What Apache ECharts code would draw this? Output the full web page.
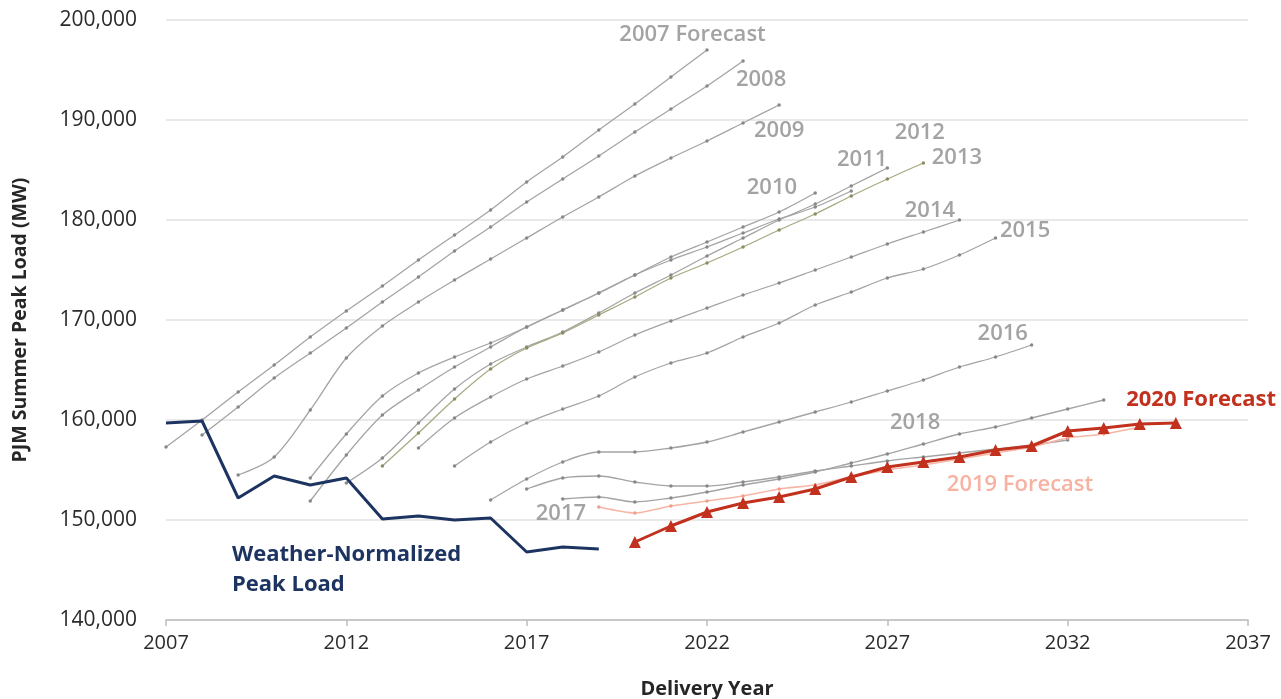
<!DOCTYPE html>
<html><head><meta charset="utf-8">
<script src="https://cdn.jsdelivr.net/npm/echarts@6/dist/echarts.min.js"></script>
<style>html,body{margin:0;padding:0;background:#fff}#c{width:1281px;height:699px}</style>
</head><body><div id="c"></div>
<script>
// ---- data ----
const actualStart = 2007;
const weatherNormalized = [159700,159900,152200,154400,153500,154200,150100,150400,150000,150200,146800,147300,147100];

const fcNames  = ['2007','2008','2009','2010','2011','2012','2013','2014','2015','2016','2017','2018'];
const fcStarts = [2007,2008,2009,2011,2011,2012,2013,2014,2015,2016,2017,2018];
const fc2007 = [157300,160000,162800,165500,168300,170900,173400,176000,178500,181000,183800,186300,189000,191600,194300,197000];
const fc2008 = [158500,161300,164200,166700,169200,171800,174300,176900,179300,181800,184100,186400,188800,191100,193400,195900];
const fc2009 = [154500,156300,161000,166200,169400,171800,174000,176100,178200,180300,182300,184400,186200,187900,189700,191500];
const fc2010 = [154200,158600,162400,164700,166300,167700,169300,171000,172700,174500,176300,177800,179300,180800,182700];
const fc2011 = [151900,156500,160500,163000,165300,167300,169300,171000,172700,174500,176000,177300,178700,180100,181300,182900];
const fc2012 = [153700,156200,159700,163100,165600,167300,168800,170700,172700,174500,176400,178200,180000,181600,183400,185200];
const fc2013 = [155400,158700,162100,165100,167200,168700,170500,172300,174200,175700,177300,179000,180600,182400,184100,185700];
const fc2014 = [157200,160200,162300,164100,165400,166800,168500,169900,171200,172500,173700,175000,176300,177600,178800,180000];
const fc2015 = [155400,157800,159700,161100,162400,164300,165700,166700,168300,169700,171500,172800,174200,175100,176500,178200];
const fc2016 = [152000,154100,155800,156800,156800,157200,157800,158800,159800,160800,161800,162900,164000,165300,166300,167500];
const fc2017 = [153100,154200,154400,153800,153400,153400,153800,154300,154900,155400,155900,156300,156700,157100,157500,158000];
const fc2018 = [152100,152300,151800,152200,152800,153500,154100,154800,155700,156600,157600,158600,159300,160200,161100,162000];
const fc2019Start = 2019;
const fc2019 = [151300,150700,151400,151900,152400,153100,153500,154300,155000,155500,156100,156700,157300,158200,158600,159300];
const fc2020Start = 2020;
const fc2020 = [147800,149400,150800,151700,152300,153100,154300,155300,155800,156300,157000,157400,158900,159200,159600,159700];

const xTicks = [2007,2012,2017,2022,2027,2032,2037];
const yTicks = [140000,150000,160000,170000,180000,190000,200000];

// ---- build ----
const pairs = (start, arr) => arr.map((v, i) => [start + i, v]);
const grayFc = [fc2007,fc2008,fc2009,fc2010,fc2011,fc2012,fc2013,fc2014,fc2015,fc2016,fc2017,fc2018];
const FONT = 'Open Sans';

const series = [];
grayFc.forEach((arr, k) => {
  const olive = fcNames[k] === '2013';
  series.push({
    name: fcNames[k] + ' Forecast', type: 'line', smooth: 0.3,
    data: pairs(fcStarts[k], arr),
    symbol: 'circle', symbolSize: 3.5, showSymbol: true,
    lineStyle: { color: olive ? '#a9a982' : '#a4a4a4', width: 1.3 },
    itemStyle: { color: olive ? '#8d8d62' : '#888888' },
    z: 2
  });
});
series.push({
  name: 'Weather-Normalized Peak Load', type: 'line',
  data: pairs(actualStart, weatherNormalized),
  symbol: 'none', lineStyle: { color: '#1d3461', width: 3 }, z: 4
});
series.push({
  name: '2019 Forecast', type: 'line', smooth: 0.2,
  data: pairs(fc2019Start, fc2019),
  symbol: 'circle', symbolSize: 3.5,
  lineStyle: { color: '#f7b5a6', width: 1.6 }, itemStyle: { color: '#f39c88' }, z: 5
});
series.push({
  name: '2020 Forecast', type: 'line',
  data: pairs(fc2020Start, fc2020),
  symbol: 'triangle', symbolSize: 12,
  lineStyle: { color: '#c1311d', width: 3 }, itemStyle: { color: '#c1311d' }, z: 6
});

// text annotations anchored in data space
const gray = '#a3a3a3';
const ann = [
  { t: '2007 Forecast', x: 2021.6, y: 198500, c: gray },
  { t: '2008', x: 2023.5, y: 194000, c: gray },
  { t: '2009', x: 2024.0, y: 188900, c: gray },
  { t: '2010', x: 2023.8, y: 183200, c: gray },
  { t: '2011', x: 2026.3, y: 186000, c: gray },
  { t: '2012', x: 2027.9, y: 188700, c: gray },
  { t: '2013', x: 2028.93, y: 186200, c: gray },
  { t: '2014', x: 2028.18, y: 180900, c: gray },
  { t: '2015', x: 2030.82, y: 178900, c: gray },
  { t: '2016', x: 2030.2, y: 168600, c: gray },
  { t: '2017', x: 2017.95, y: 150600, c: gray },
  { t: '2018', x: 2027.77, y: 159700, c: gray },
  { t: '2019 Forecast', x: 2030.68, y: 153500, c: '#f7b2a2' },
  { t: '2020 Forecast', x: 2035.7, y: 162000, c: '#c1311d', w: 'bold' }
];
series.push({
  type: 'scatter', symbolSize: 0, z: 10, silent: true,
  itemStyle: { opacity: 1 },
  data: ann.map(a => ({
    value: [a.x, a.y],
    label: { show: true, position: 'inside', formatter: a.t, color: a.c,
             fontFamily: FONT, fontSize: 22, fontWeight: a.w || 600 }
  }))
});
series.push({
  type: 'scatter', symbolSize: 0, z: 10, silent: true,
  itemStyle: { opacity: 1 },
  data: [{ value: [2008.83, 145000],
    label: { show: true, position: [0, 0], align: 'left', verticalAlign: 'middle',
      formatter: 'Weather-Normalized\nPeak Load', color: '#1d3461',
      fontFamily: FONT, fontSize: 22, fontWeight: 'bold', lineHeight: 30 } }]
});

const chart = echarts.init(document.getElementById('c'), null, { renderer: 'canvas' });
chart.setOption({
  animation: false,
  backgroundColor: '#fff',
  grid: { left: 166, right: 33, top: 20, bottom: 79, containLabel: false, outerBoundsMode: 'none' },
  xAxis: {
    type: 'value', min: xTicks[0], max: xTicks[xTicks.length - 1], interval: 5,
    name: 'Delivery Year', nameLocation: 'middle', nameGap: 59,
    nameTextStyle: { fontFamily: FONT, fontSize: 20, fontWeight: 'bold', color: '#262626' },
    axisLine: { lineStyle: { color: '#bdbdbd', width: 1.5 } },
    axisTick: { show: true, length: 6, lineStyle: { color: '#bdbdbd', width: 1.5 } },
    axisLabel: { fontFamily: FONT, fontSize: 20, color: '#2b2b2b', margin: 13,
      formatter: v => String(v) },
    splitLine: { show: false }
  },
  yAxis: {
    type: 'value', min: yTicks[0], max: yTicks[yTicks.length - 1], interval: 10000,
    name: 'PJM Summer Peak Load (MW)', nameLocation: 'middle', nameGap: 136, nameRotate: 90,
    nameTextStyle: { fontFamily: FONT, fontSize: 19.5, fontWeight: 'bold', color: '#262626' },
    axisLine: { show: false }, axisTick: { show: false },
    axisLabel: { fontFamily: FONT, fontSize: 21, color: '#2b2b2b', margin: 29,
      formatter: v => v.toLocaleString('en-US') },
    splitLine: { lineStyle: { color: '#e2e2e2', width: 1.5 } }
  },
  series
});
</script></body></html>
